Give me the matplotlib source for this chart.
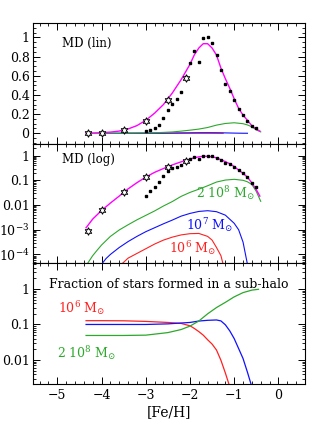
import numpy as np
import matplotlib
matplotlib.use("Agg")
import matplotlib.pyplot as plt
from matplotlib.ticker import MultipleLocator, LogLocator, NullFormatter

plt.rcParams['font.family'] = ['DejaVu Serif']
plt.rcParams['mathtext.fontset'] = 'dejavuserif'

# observed MD: stars (low metallicity sample) and squares (binned data)
star_feh = [-4.3, -4.0, -3.5, -3.0, -2.5, -2.1]
star_md = [0.0009, 0.006, 0.033, 0.13, 0.35, 0.58]

sq_feh = [-3.0, -2.9, -2.8, -2.7, -2.6, -2.5, -2.4, -2.3, -2.2, -2.1, -2.0, -1.9, -1.8,
          -1.7, -1.6, -1.5, -1.4, -1.3, -1.2, -1.1, -1.0, -0.9, -0.8, -0.7, -0.6, -0.5]
sq_md = [0.024, 0.038, 0.052, 0.083, 0.156, 0.243, 0.31, 0.354, 0.43, 0.583, 0.736, 0.857,
         0.743, 0.997, 1.007, 0.944, 0.816, 0.656, 0.517, 0.441, 0.347, 0.253, 0.19, 0.132,
         0.076, 0.052]

# model total MD
tot_feh = [-4.35, -4.2, -4.0, -3.8, -3.6, -3.4, -3.2, -3.0, -2.8, -2.6, -2.4, -2.2, -2.0,
           -1.9, -1.8, -1.7, -1.6, -1.5, -1.4, -1.3, -1.2, -1.1, -1.0, -0.9, -0.8, -0.7,
           -0.6, -0.5, -0.42]
tot_md = [0.0012, 0.0027, 0.006, 0.012, 0.023, 0.045, 0.08, 0.135, 0.21, 0.30, 0.42, 0.56,
          0.72, 0.82, 0.89, 0.935, 0.935, 0.89, 0.816, 0.68, 0.57, 0.47, 0.36, 0.26, 0.19,
          0.135, 0.078, 0.042, 0.023]

# sub-halo contributions (log10 of MD)
g_feh = [-4.33, -4.2, -4.1, -4.0, -3.8, -3.6, -3.4, -3.2, -3.0, -2.8, -2.6, -2.4, -2.2,
         -2.0, -1.8, -1.6, -1.4, -1.2, -1.0, -0.8, -0.7, -0.6, -0.5, -0.4]
g_log = [-4.4, -4.05, -3.83, -3.62, -3.27, -3.01, -2.80, -2.60, -2.42, -2.24, -2.04, -1.86,
         -1.65, -1.49, -1.36, -1.22, -1.07, -0.99, -0.96, -1.0, -1.06, -1.17, -1.45, -1.85]

b_feh = [-4.0, -3.9, -3.8, -3.6, -3.4, -3.2, -3.0, -2.8, -2.6, -2.4, -2.2, -2.0, -1.8,
         -1.6, -1.4, -1.2, -1.0, -0.9, -0.8, -0.7]
b_log = [-4.4, -4.17, -4.0, -3.72, -3.48, -3.27, -3.08, -2.92, -2.76, -2.61, -2.45, -2.34,
         -2.26, -2.23, -2.27, -2.41, -2.74, -3.0, -3.5, -4.4]

r_feh = [-3.55, -3.4, -3.2, -3.0, -2.8, -2.6, -2.4, -2.2, -2.0, -1.8, -1.6, -1.5, -1.4,
         -1.3, -1.25]
r_log = [-4.4, -4.15, -3.96, -3.77, -3.58, -3.42, -3.30, -3.21, -3.16, -3.15, -3.27, -3.42,
         -3.72, -4.05, -4.4]

# fraction of stars formed in a sub-halo
fr_feh = [-4.35, -4.0, -3.5, -3.0, -2.5, -2.2, -2.0, -1.9, -1.8, -1.7, -1.6, -1.5, -1.4,
          -1.3, -1.2, -1.12]
fr_val = [0.128, 0.128, 0.127, 0.122, 0.114, 0.107, 0.092, 0.077, 0.063, 0.05, 0.037, 0.028,
          0.019, 0.0098, 0.0043, 0.0021]
fb_feh = [-4.35, -3.0, -2.5, -2.0, -1.8, -1.6, -1.4, -1.3, -1.2, -1.1, -1.0, -0.9, -0.8,
          -0.7, -0.62]
fb_val = [0.10, 0.10, 0.104, 0.114, 0.125, 0.131, 0.134, 0.126, 0.098, 0.066, 0.040, 0.021,
          0.011, 0.0045, 0.0021]
fg_feh = [-4.35, -3.5, -3.0, -2.5, -2.2, -2.0, -1.8, -1.6, -1.4, -1.3, -1.2, -1.0, -0.8,
          -0.6, -0.45]
fg_val = [0.049, 0.049, 0.050, 0.059, 0.072, 0.09, 0.125, 0.20, 0.30, 0.355, 0.42, 0.60,
          0.79, 0.93, 0.98]

MAG = '#ff00ff'
GRN = '#2ca82c'
BLU = '#1010ff'
RED = '#ff2020'

fig = plt.figure(figsize=(3.22, 4.28), dpi=100)
left, width = 0.1025, 0.8445
ax1 = fig.add_axes([left, 0.664, width, 0.282])
ax2 = fig.add_axes([left, 0.3855, width, 0.2785])
ax3 = fig.add_axes([left, 0.1028, width, 0.2827])

g_md = 10 ** np.array(g_log)
b_md = 10 ** np.array(b_log)
r_md = 10 ** np.array(r_log)

star_kw = dict(marker=(6, 1, 0), ms=5.5, mfc='white', mec='black', mew=0.7, ls='none', zorder=5)
sq_kw = dict(marker='s', ms=2.0, color='black', ls='none', zorder=4)

for ax in (ax1, ax2):
    ax.plot(r_feh, r_md, color=RED, lw=0.8)
    ax.plot(b_feh, b_md, color=BLU, lw=0.8)
    ax.plot(g_feh, g_md, color=GRN, lw=0.8)
    ax.plot(tot_feh, tot_md, color=MAG, lw=1.0)
    ax.plot(sq_feh, sq_md, **sq_kw)
    ax.plot(star_feh, star_md, **star_kw)

ax3.plot(fr_feh, fr_val, color=RED, lw=0.9)
ax3.plot(fb_feh, fb_val, color=BLU, lw=0.9)
ax3.plot(fg_feh, fg_val, color=GRN, lw=0.9)

ax1.set_ylim(-0.11, 1.15)
ax1.yaxis.set_minor_locator(MultipleLocator(0.05))
ax1.set_yticks([0, 0.2, 0.4, 0.6, 0.8, 1.0])
ax1.set_yticklabels(['0', '0.2', '0.4', '0.6', '0.8', '1'])

ax2.set_yscale('log')
ax2.set_ylim(4.5e-5, 3.0)
ax2.set_yticks([1e-4, 1e-3, 1e-2, 1e-1, 1])
ax2.set_yticklabels(['10$^{-4}$', '10$^{-3}$', '0.01', '0.1', '1'])

ax3.set_yscale('log')
ax3.set_ylim(0.0021, 5.4)
ax3.set_yticks([0.01, 0.1, 1])
ax3.set_yticklabels(['0.01', '0.1', '1'])

for ax in (ax2, ax3):
    ax.yaxis.set_minor_locator(LogLocator(base=10, subs=np.arange(2, 10), numticks=20))
    ax.yaxis.set_minor_formatter(NullFormatter())

for ax in (ax1, ax2, ax3):
    ax.set_xlim(-5.55, 0.6)
    ax.xaxis.set_major_locator(MultipleLocator(1))
    ax.xaxis.set_minor_locator(MultipleLocator(0.2))
    ax.tick_params(which='both', direction='in', top=True, right=True, labelsize=9)
    ax.tick_params(axis='y', pad=2.5)
    ax.tick_params(which='major', length=5, width=0.7)
    ax.tick_params(which='minor', length=2.5, width=0.6)
    for s in ax.spines.values():
        s.set_linewidth(0.8)

ax1.tick_params(labelbottom=False)
ax2.tick_params(labelbottom=False)
ax3.set_xticks([-5, -4, -3, -2, -1, 0])
ax3.set_xticklabels(['\u22125', '\u22124', '\u22123', '\u22122', '\u22121', '0'])
ax3.set_xlabel('[Fe/H]', fontsize=10, labelpad=2)

ax1.text(0.107, 0.835, 'MD (lin)', transform=ax1.transAxes, fontsize=8.5, va='center')
ax2.text(0.107, 0.866, 'MD (log)', transform=ax2.transAxes, fontsize=8.5, va='center')
ax2.text(-1.2, 0.03, r'$2\ 10^8\ \mathrm{M}_{\odot}$', color=GRN, fontsize=9, ha='center', va='center')
ax2.text(-1.56, 1.5e-3, r'$10^7\ \mathrm{M}_{\odot}$', color=BLU, fontsize=9, ha='center', va='center')
ax2.text(-1.95, 1.8e-4, r'$10^6\ \mathrm{M}_{\odot}$', color=RED, fontsize=9, ha='center', va='center')

ax3.text(0.5, 0.82, 'Fraction of stars formed in a sub-halo', transform=ax3.transAxes,
         fontsize=9, ha='center', va='center')
ax3.text(-4.46, 0.29, r'$10^6\ \mathrm{M}_{\odot}$', color=RED, fontsize=9, ha='center', va='center')
ax3.text(-4.33, 0.016, r'$2\ 10^8\ \mathrm{M}_{\odot}$', color=GRN, fontsize=9, ha='center', va='center')

fig.savefig('out.png', dpi=100)
